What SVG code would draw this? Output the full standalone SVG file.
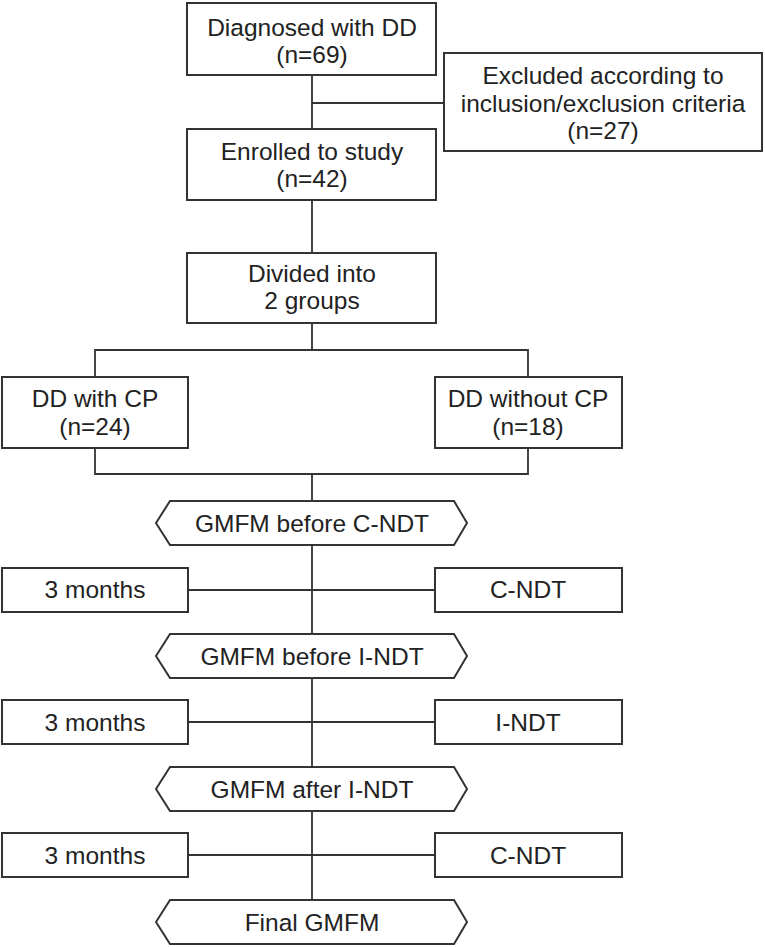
<svg xmlns="http://www.w3.org/2000/svg" width="765" height="947" viewBox="0 0 765 947">
<style>
.box{fill:#fff;stroke:#333;stroke-width:2}
.ln{fill:none;stroke:#333;stroke-width:1.8}
text{font-family:"Liberation Sans",Arial,sans-serif;font-size:24.5px;fill:#222;text-anchor:middle}
</style>
<rect width="765" height="947" fill="#fff"/>
<g id="connectors">
<path class="ln" d="M312 75V129M312 103H444M312 200V253M312 323V350M95 377V350H528V377M95 448V474H528V448M312 474V501"/>
<path class="ln" d="M312 545V634M188 590H435"/>
<path class="ln" d="M312 678V767M188 722H435"/>
<path class="ln" d="M312 811V900M188 855H435"/>
</g>
<g id="diagnosed"><rect class="box" x="187" y="3" width="249" height="72"/><text x="312" y="36">Diagnosed with DD</text><text x="312" y="63">(n=69)</text></g>
<g id="excluded"><rect class="box" x="444" y="53" width="318" height="98"/><text x="603" y="84">Excluded according to</text><text x="603" y="112">inclusion/exclusion criteria</text><text x="603" y="139">(n=27)</text></g>
<g id="enrolled"><rect class="box" x="187" y="129" width="249" height="71"/><text x="312" y="160">Enrolled to study</text><text x="312" y="187">(n=42)</text></g>
<g id="divided"><rect class="box" x="187" y="253" width="249" height="70"/><text x="312" y="282">Divided into</text><text x="312" y="309">2 groups</text></g>
<g id="withcp"><rect class="box" x="2" y="377" width="186" height="71"/><text x="95" y="407">DD with CP</text><text x="95" y="435">(n=24)</text></g>
<g id="withoutcp"><rect class="box" x="435" y="377" width="187" height="71"/><text x="528" y="407">DD without CP</text><text x="528" y="435">(n=18)</text></g>
<g id="gmfm1"><polygon class="box" points="156,523 170,501 454,501 467,523 454,545 170,545"/><text x="312" y="532">GMFM before C-NDT</text></g>
<g id="months1"><rect class="box" x="2" y="568" width="186" height="44"/><text x="95" y="598">3 months</text></g>
<g id="cndt1"><rect class="box" x="435" y="568" width="187" height="44"/><text x="528" y="598">C-NDT</text></g>
<g id="gmfm2"><polygon class="box" points="156,656 170,634 454,634 467,656 454,678 170,678"/><text x="312" y="665">GMFM before I-NDT</text></g>
<g id="months2"><rect class="box" x="2" y="700" width="186" height="44"/><text x="95" y="731">3 months</text></g>
<g id="indt"><rect class="box" x="435" y="700" width="187" height="44"/><text x="528" y="731">I-NDT</text></g>
<g id="gmfm3"><polygon class="box" points="156,789 170,767 454,767 467,789 454,811 170,811"/><text x="312" y="798">GMFM after I-NDT</text></g>
<g id="months3"><rect class="box" x="2" y="833" width="186" height="44"/><text x="95" y="864">3 months</text></g>
<g id="cndt2"><rect class="box" x="435" y="833" width="187" height="44"/><text x="528" y="864">C-NDT</text></g>
<g id="final"><polygon class="box" points="156,922 170,900 454,900 467,922 454,944 170,944"/><text x="312" y="931">Final GMFM</text></g>
</svg>
